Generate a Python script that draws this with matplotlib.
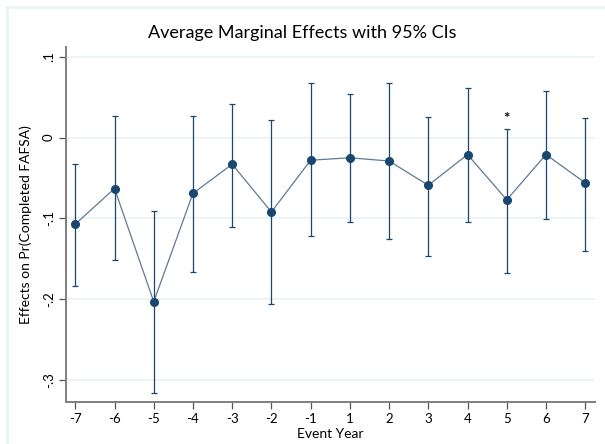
import matplotlib.pyplot as plt
from matplotlib.patches import Rectangle

plt.rcParams['font.family'] = ['Lato', 'DejaVu Sans']

years = ['-7', '-6', '-5', '-4', '-3', '-2', '-1', '1', '2', '3', '4', '5', '6', '7']
effect = [-0.107, -0.063, -0.203, -0.069, -0.033, -0.092, -0.028, -0.025, -0.029,
          -0.059, -0.021, -0.077, -0.021, -0.056]
ci_low = [-0.183, -0.152, -0.316, -0.166, -0.110, -0.206, -0.122, -0.104, -0.126,
          -0.147, -0.104, -0.167, -0.101, -0.140]
ci_high = [-0.033, 0.027, -0.091, 0.027, 0.041, 0.022, 0.067, 0.054, 0.068,
           0.026, 0.061, 0.011, 0.057, 0.024]
star_year = '5'
star_y = 0.023

navy = '#1a476f'
grid_col = '#eaf2f3'

fig = plt.figure(figsize=(6.05, 4.44), dpi=100)

# light graph-region frame like Stata
fig.patches.append(Rectangle((7 / 605, -0.1), 1.2, 1 - 7 / 444 + 0.1, transform=fig.transFigure,
                             fill=False, edgecolor=grid_col, linewidth=2))

ax = fig.add_axes([66 / 605, 1 - 402 / 444, 529 / 605, 355 / 444])

x = list(range(len(years)))
yerr = [[e - l for e, l in zip(effect, ci_low)], [h - e for e, h in zip(effect, ci_high)]]
ax.errorbar(x, effect, yerr=yerr, fmt='none', ecolor=navy, elinewidth=0.9,
            capsize=2.5, capthick=0.9, zorder=3)
ax.plot(x, effect, color='#5f7a94', linewidth=0.9, zorder=2)
ax.plot(x, effect, 'o', color=navy, markersize=5.5, zorder=4)

ax.text(years.index(star_year), star_y, '*', ha='center', va='center', fontsize=11,
        fontweight='bold', color='black')

ax.set_xlim(-0.237, 13.25)
ax.set_ylim(-0.327, 0.112)
ax.set_xticks(x)
ax.set_xticklabels(years, fontsize=9.5)
ax.set_yticks([0.1, 0, -0.1, -0.2, -0.3])
ax.set_yticklabels(['.1', '0', '-.1', '-.2', '-.3'], fontsize=9.5, rotation=90, va='center')

ax.grid(axis='y', color=grid_col, linewidth=1.2)
ax.set_axisbelow(True)
for s in ['top', 'right']:
    ax.spines[s].set_visible(False)
for s in ['left', 'bottom']:
    ax.spines[s].set_color('#7f7f7f')
    ax.spines[s].set_linewidth(1.4)
ax.tick_params(direction='out', length=5, width=0.9, color='#555555', pad=3)

ax.set_xlabel('Event Year', fontsize=10, labelpad=2)
ax.set_ylabel('Effects on Pr(Completed FAFSA)', fontsize=10, labelpad=8)
fig.text(0.5, 1 - 33 / 444, 'Average Marginal Effects with 95% CIs', ha='center', va='center',
         fontsize=13)

plt.savefig('out.png')
